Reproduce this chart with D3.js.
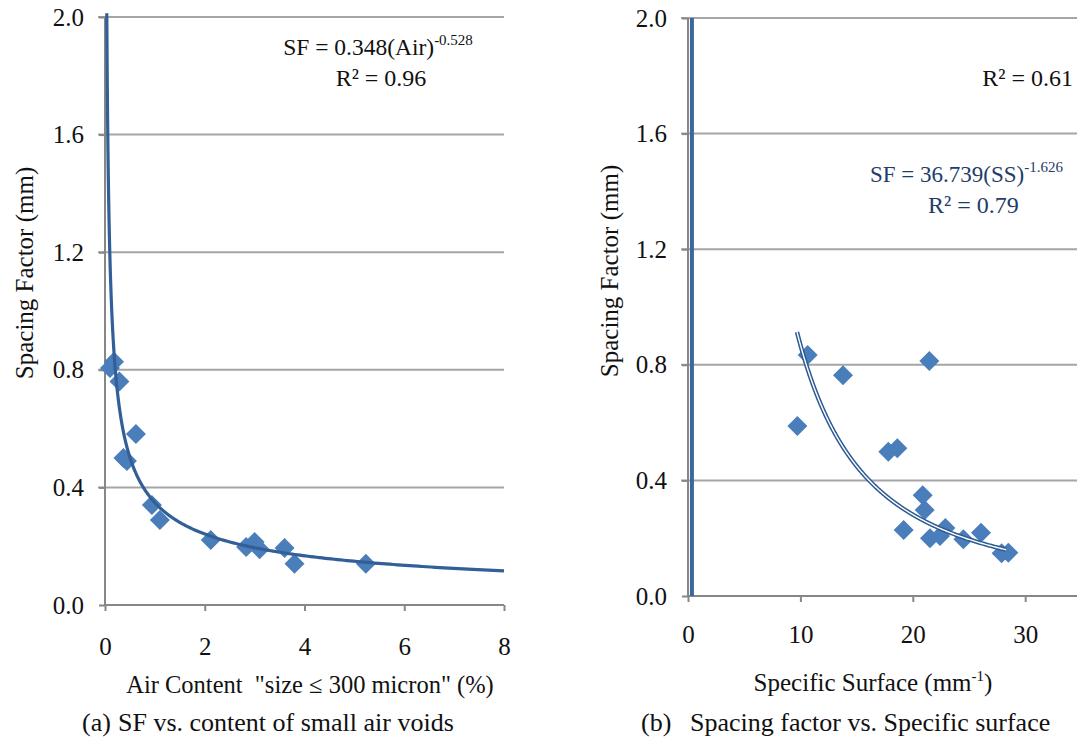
<!DOCTYPE html>
<html>
<head>
<meta charset="utf-8">
<script src="https://cdn.jsdelivr.net/npm/d3@7"></script>
<style>
  html, body { margin: 0; padding: 0; background: #ffffff; }
  svg { display: block; }
  svg text { font-family: "Liberation Serif", "Times New Roman", Tinos, "DejaVu Serif", serif !important; }
</style>
</head>
<body>
<svg id="chart" width="1077" height="742"></svg>
<script>
// (a) spacing factor vs. content of small air voids
const airContent = [0.10, 0.18, 0.29, 0.62, 0.37, 0.44, 0.94, 1.10, 2.12, 2.83, 3.00, 3.10, 3.60, 3.80, 5.23];
const sfAir      = [0.806, 0.827, 0.760, 0.582, 0.500, 0.490, 0.340, 0.289, 0.221, 0.197, 0.214, 0.190, 0.194, 0.140, 0.140];
const fitAir = { coef: 0.348, exp: -0.528, r2: 0.96, from: 0.036, to: 8 };

// (b) spacing factor vs. specific surface
const specSurface = [10.65, 13.79, 21.47, 9.73, 17.82, 18.62, 20.88, 21.06, 19.19, 21.53, 22.42, 22.90, 24.50, 26.07, 27.90, 28.50];
const sfSurface   = [0.834, 0.764, 0.813, 0.588, 0.499, 0.511, 0.349, 0.298, 0.228, 0.200, 0.208, 0.235, 0.196, 0.219, 0.148, 0.150];
const fitSurface = { coef: 36.739, exp: -1.626, r2: 0.79, from: 9.7, to: 28.3 };
const secondFitX = 0.35;   // degenerate trend line (R² = 0.61)
const secondFitR2 = 0.61;

const yTicks = [0, 0.4, 0.8, 1.2, 1.6, 2.0];
const xTicksA = [0, 2, 4, 6, 8];
const xTicksB = [0, 10, 20, 30];

const svg = d3.select("#chart");
const GRID = "#a5a5a5", AXIS = "#878787", MARK = "#4a7ebb", FIT = "#325f98", TXT = "#111", EQB = "#1f3d6b";
const SERIF = '"Liberation Serif", "Times New Roman", Tinos, serif';

function diamond(g, xs, ys, xv, yv) {
  const s = 10;
  g.selectAll("path.pt").data(xv.map((x, i) => [x, yv[i]])).join("path")
    .attr("class", "pt")
    .attr("d", d => {
      const cx = xs(d[0]), cy = ys(d[1]);
      return `M${cx},${cy - s}L${cx + s},${cy}L${cx},${cy + s}L${cx - s},${cy}Z`;
    })
    .attr("fill", MARK);
}

function frame(g, xs, ys, xTicks, xLabelPad) {
  const [x0, x1] = xs.range();
  // horizontal gridlines (extend left to act as ticks)
  g.selectAll("line.grid").data(yTicks.filter(v => v > 0)).join("line")
    .attr("class", "grid")
    .attr("x1", x0 - 7).attr("x2", x1)
    .attr("y1", d => ys(d)).attr("y2", d => ys(d))
    .attr("stroke", GRID).attr("stroke-width", 2);

  const ax = g.append("g").attr("transform", `translate(0,${ys(0)})`)
    .call(d3.axisBottom(xs).tickValues(xTicks).tickSize(6).tickPadding(xLabelPad).tickFormat(d3.format("d")));
  ax.attr("font-family", SERIF);
  ax.select(".domain").attr("stroke", AXIS).attr("stroke-width", 2).attr("d", `M${x0},0H${x1}`);
  ax.selectAll(".tick line").attr("stroke", AXIS).attr("stroke-width", 2);
  ax.selectAll("text").attr("font-size", 25).attr("fill", TXT);

  const ay = g.append("g").attr("transform", `translate(${x0},0)`)
    .call(d3.axisLeft(ys).tickValues(yTicks).tickSize(6).tickPadding(15).tickFormat(d3.format(".1f")));
  ay.attr("font-family", SERIF);
  ay.select(".domain").attr("stroke", AXIS).attr("stroke-width", 2).attr("d", `M0,${ys(0)}V${ys(2)}`);
  ay.selectAll(".tick line").attr("stroke", AXIS).attr("stroke-width", 2);
  ay.selectAll("text").attr("font-size", 25).attr("fill", TXT);
}

function fitPath(xs, ys, fit) {
  const pts = d3.range(0, 401).map(i => {
    const t = i / 400;
    const x = Math.exp(Math.log(fit.from) + t * (Math.log(fit.to) - Math.log(fit.from)));
    return [x, fit.coef * Math.pow(x, fit.exp)];
  });
  return d3.line().x(d => xs(d[0])).y(d => ys(d[1])).curve(d3.curveLinear)(pts);
}

/* ---------- panel (a) ---------- */
const xA = d3.scaleLinear().domain([0, 8]).range([105, 504]);
const yA = d3.scaleLinear().domain([0, 2]).range([605, 17]);
const gA = svg.append("g");
frame(gA, xA, yA, xTicksA, 26);
diamond(gA, xA, yA, airContent, sfAir);
gA.append("path").attr("d", fitPath(xA, yA, fitAir))
  .attr("fill", "none").attr("stroke", FIT).attr("stroke-width", 3.2).attr("stroke-linejoin", "round");

const eqA = gA.append("text").attr("x", 378).attr("y", 55).attr("text-anchor", "middle")
  .attr("font-size", 23.5).attr("fill", TXT);
eqA.append("tspan").text(`SF = ${fitAir.coef}(Air)`);
eqA.append("tspan").attr("font-size", 15).attr("dy", -10).text(fitAir.exp);
gA.append("text").attr("x", 381).attr("y", 86).attr("text-anchor", "middle")
  .attr("font-size", 24).attr("fill", TXT).text(`R² = ${fitAir.r2.toFixed(2)}`);

gA.append("text").attr("transform", "translate(33,273) rotate(-90)").attr("text-anchor", "middle")
  .attr("font-size", 25).attr("fill", TXT).text("Spacing Factor (mm)");
gA.append("text").attr("x", 310).attr("y", 693).attr("text-anchor", "middle")
  .attr("font-size", 24.5).attr("fill", TXT).attr("xml:space", "preserve")
  .text('Air Content  "size \u2264 300 micron" (%)');
gA.append("text").attr("x", 82).attr("y", 731).attr("font-size", 26).attr("fill", TXT).text("(a)");
gA.append("text").attr("x", 118).attr("y", 731).attr("font-size", 26).attr("fill", TXT)
  .text("SF vs. content of small air voids");

/* ---------- panel (b) ---------- */
const xB = d3.scaleLinear().domain([0, 35]).range([688, 688 + 35 * 11.24]);
const yB = d3.scaleLinear().domain([0, 2]).range([596, 18]);
const gB = svg.append("g");
frame(gB, xB, yB, xTicksB, 23);
// degenerate trend line hugging the axis
gB.append("line").attr("x1", xB(secondFitX)).attr("x2", xB(secondFitX))
  .attr("y1", yB(0)).attr("y2", yB(2)).attr("stroke", "#3a67a2").attr("stroke-width", 4);
diamond(gB, xB, yB, specSurface, sfSurface);
const pB = fitPath(xB, yB, fitSurface);
gB.append("path").attr("d", pB).attr("fill", "none").attr("stroke", "#2d5a91").attr("stroke-width", 4.4);
gB.append("path").attr("d", pB).attr("fill", "none").attr("stroke", "#ffffff").attr("stroke-width", 1.4);

gB.append("text").attr("x", 1073).attr("y", 86).attr("text-anchor", "end").attr("font-size", 24).attr("fill", TXT)
  .text(`R² = ${secondFitR2.toFixed(2)}`);
const eqB = gB.append("text").attr("x", 870).attr("y", 182).attr("font-size", 23).attr("fill", EQB);
eqB.append("tspan").text(`SF = ${fitSurface.coef}(SS)`);
eqB.append("tspan").attr("font-size", 15).attr("dy", -10).text(fitSurface.exp);
gB.append("text").attr("x", 928).attr("y", 213).attr("font-size", 24).attr("fill", EQB)
  .text(`R² = ${fitSurface.r2.toFixed(2)}`);

gB.append("text").attr("transform", "translate(618,271) rotate(-90)").attr("text-anchor", "middle")
  .attr("font-size", 25).attr("fill", TXT).text("Spacing Factor (mm)");
const xtB = gB.append("text").attr("x", 873).attr("y", 691).attr("text-anchor", "middle")
  .attr("font-size", 25).attr("fill", TXT);
xtB.append("tspan").text("Specific Surface (mm");
xtB.append("tspan").attr("font-size", 15).attr("dy", -10).text("-1");
xtB.append("tspan").attr("dy", 10).text(")");
gB.append("text").attr("x", 641).attr("y", 731).attr("font-size", 26).attr("fill", TXT).text("(b)");
gB.append("text").attr("x", 690).attr("y", 731).attr("font-size", 26).attr("fill", TXT)
  .text("Spacing factor vs. Specific surface");
</script>
</body>
</html>
